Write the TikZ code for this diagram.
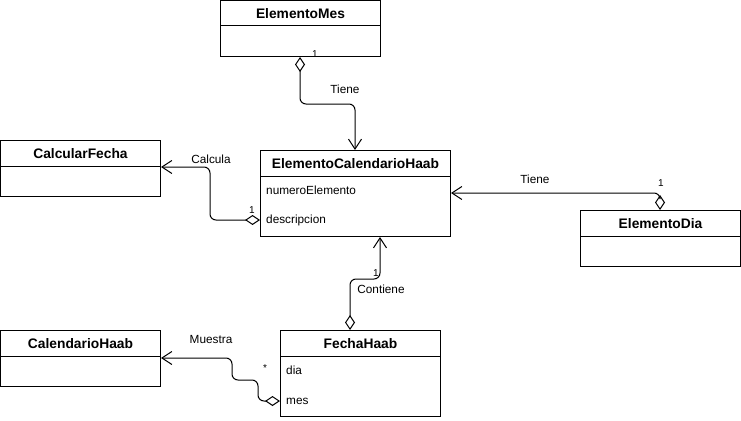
\documentclass[tikz,border=0pt]{standalone}
\usepackage{fontspec}
\setmainfont{Liberation Sans}
\usetikzlibrary{arrows.meta,calc}
\tikzset{
  cls/.style={draw, line width=1pt, inner sep=0pt, fill=white},
  ttl/.style={font=\fontsize{13.8}{16}\selectfont\bfseries, inner sep=0pt},
  attr/.style={font=\fontsize{11.8}{14}\selectfont, inner sep=0pt, anchor=west},
  lbl/.style={font=\fontsize{11.8}{14}\selectfont, inner sep=0pt},
  mult/.style={font=\fontsize{10}{12}\selectfont, inner sep=0pt},
  agg/.style={line width=1pt, rounded corners=6pt,
    {Diamond[open,length=15pt,width=10pt,line width=1pt]}-{Straight Barb[length=10pt,width=13pt,line width=1pt]}},
}
\begin{document}
\begin{tikzpicture}[x=1pt,y=-1pt]
\useasboundingbox (0,0) rectangle (741,420);
% classes
\node[cls, minimum width=160pt, minimum height=56pt, anchor=north west] (em) at (220,0) {};
\draw[line width=1pt] ($(em.north west)+(0,26)$) -- ($(em.north east)+(0,26)$);
\node[ttl] (emt) at ($(em.north)+(0,14)$) {ElementoMes};

\node[cls, minimum width=190pt, minimum height=86pt, anchor=north west] (ech) at (260,150) {};
\draw[line width=1pt] ($(ech.north west)+(0,26)$) -- ($(ech.north east)+(0,26)$);
\node[ttl] (echt) at ($(ech.north)+(0,14)$) {ElementoCalendarioHaab};
\node[attr] (ech1) at ($(ech.north west)+(6,40)$) {numeroElemento};
\node[attr] (ech2) at ($(ech.north west)+(6,70)$) {descripcion};

\node[cls, minimum width=160pt, minimum height=56pt, anchor=north west] (cf) at (0,140) {};
\draw[line width=1pt] ($(cf.north west)+(0,26)$) -- ($(cf.north east)+(0,26)$);
\node[ttl] (cft) at ($(cf.north)+(0,14)$) {CalcularFecha};

\node[cls, minimum width=160pt, minimum height=56pt, anchor=north west] (ed) at (580,210) {};
\draw[line width=1pt] ($(ed.north west)+(0,26)$) -- ($(ed.north east)+(0,26)$);
\node[ttl] (edt) at ($(ed.north)+(0,14)$) {ElementoDia};

\node[cls, minimum width=160pt, minimum height=56pt, anchor=north west] (ch) at (0,330) {};
\draw[line width=1pt] ($(ch.north west)+(0,26)$) -- ($(ch.north east)+(0,26)$);
\node[ttl] (cht) at ($(ch.north)+(0,14)$) {CalendarioHaab};

\node[cls, minimum width=160pt, minimum height=86pt, anchor=north west] (fh) at (280,330) {};
\draw[line width=1pt] ($(fh.north west)+(0,26)$) -- ($(fh.north east)+(0,26)$);
\node[ttl] (fht) at ($(fh.north)+(0,14)$) {FechaHaab};
\node[attr] (fh1) at ($(fh.north west)+(6,40)$) {dia};
\node[attr] (fh2) at ($(fh.north west)+(6,71)$) {mes};

% connectors
\draw[agg] ($(em.south west)+(80,0)$) -- ++(0,47) -| ($(ech.north west)+(95,0)$);
\node[lbl] (l1) at (345,89) {Tiene};
\node[mult] (m1) at (315,54) {1};

\draw[agg] ($(ech.north west)+(0,70)$) -- ++(-50,0) |- ($(cf.north east)+(0,27)$);
\node[lbl] (l2) at (211,159) {Calcula};
\node[mult] (m2) at (252,210) {1};

\draw[agg] ($(ed.north west)+(80,0)$) |- ($(ech.north east)+(0,43)$);
\node[lbl] (l3) at (535,179) {Tiene};
\node[mult] (m3) at (661,183) {1};

\draw[agg] ($(fh.north west)+(70,0)$) -- ++(0,-51) -| ($(ech.south west)+(120,0)$);
\node[lbl] (l4) at (381,289) {Contiene};
\node[mult] (m4) at (376,273) {1};

\draw[agg] ($(fh.north west)+(0,71)$) -- ++(-22,0) -- ++(0,-21) -- ++(-26,0) |- ($(ch.north east)+(0,28)$);
\node[lbl] (l5) at (211,339) {Muestra};
\node[mult] (m5) at (265,368) {*};
\end{tikzpicture}
\end{document}
